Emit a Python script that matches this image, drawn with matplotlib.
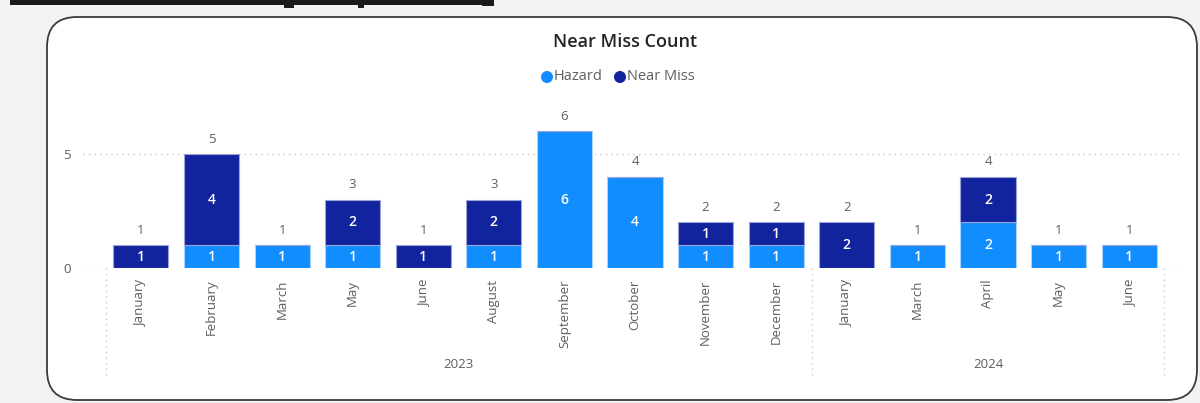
import matplotlib
matplotlib.use("Agg")
import matplotlib.pyplot as plt
from matplotlib.patches import FancyBboxPatch, Rectangle
from matplotlib.lines import Line2D
import numpy as np

plt.rcParams['font.family'] = ['Open Sans', 'DejaVu Sans']

months = ["January", "February", "March", "May", "June", "August", "September",
          "October", "November", "December", "January", "March", "April", "May", "June"]
years = ["2023", "2024"]
year_counts = [10, 5]
hazard = [0, 1, 1, 1, 0, 1, 6, 4, 1, 1, 0, 1, 2, 1, 1]
near_miss = [1, 4, 0, 2, 1, 2, 0, 0, 1, 1, 2, 0, 2, 0, 0]

C_HAZ = "#118DFF"
C_NM = "#12239E"
GREY = "#605E5C"
GRID = "#C8C8C8"

W, H = 1200, 403
fig = plt.figure(figsize=(W / 100, H / 100), dpi=100)
fig.patch.set_facecolor("#F3F2F1")

# background / card layer in pixel coordinates
bg = fig.add_axes([0, 0, 1, 1], zorder=0)
bg.set_xlim(0, W)
bg.set_ylim(H, 0)
bg.axis("off")
card = FancyBboxPatch((47, 17), 1150, 383, boxstyle="round,pad=0,rounding_size=30",
                      facecolor="white", edgecolor="#3B3B3B", linewidth=1.3)
bg.add_patch(card)
# cut-off dashboard heading at the very top
bg.add_patch(Rectangle((10, 0), 478, 4.5, facecolor="#1A1A1A", edgecolor="none"))
for x0, w, h in [(284, 10, 8), (358, 6, 8), (482, 12, 6)]:
    bg.add_patch(Rectangle((x0, 0), w, h, facecolor="#1A1A1A", edgecolor="none"))

bg.text(625, 42, "Near Miss Count", ha="center", va="center", fontsize=13,
        fontweight="semibold", color="#252423")
# legend
bg.scatter([547, 620], [77, 77], s=75, color=[C_HAZ, C_NM], zorder=3, linewidths=0)
bg.text(554, 77, "Hazard", ha="left", va="center", fontsize=10.5, color=GREY)
bg.text(627, 77, "Near Miss", ha="left", va="center", fontsize=10.5, color=GREY)

# main axes
ax_left, ax_right, y0_px, ytop_px = 83, 1180, 268, 110.7
ax = fig.add_axes([ax_left / W, 1 - y0_px / H, (ax_right - ax_left) / W, (y0_px - ytop_px) / H], zorder=1)
ax.patch.set_alpha(0)

x = np.arange(len(months))
haz = np.array(hazard)
nm = np.array(near_miss)
tot = haz + nm
bw = 0.78
ax.bar(x, haz, bw, color=C_HAZ, edgecolor="#A9D4FF", linewidth=0.8, zorder=2)
ax.bar(x, nm, bw, bottom=haz, color=C_NM, edgecolor="#9AA3DA", linewidth=0.8, zorder=2)

for i in range(len(x)):
    if haz[i] > 0:
        ax.text(x[i], haz[i] / 2, str(haz[i]), ha="center", va="center", color="white",
                fontsize=10, fontweight="semibold", zorder=3)
    if nm[i] > 0:
        ax.text(x[i], haz[i] + nm[i] / 2, str(nm[i]), ha="center", va="center", color="white",
                fontsize=10, fontweight="semibold", zorder=3)
    ax.annotate(str(tot[i]), (x[i], tot[i]), xytext=(0, 6), textcoords="offset points",
                ha="center", va="bottom", fontsize=9.5, color=GREY)

ax.set_xlim(-0.82, 14.72)
ax.set_ylim(0, 6.9)
ax.set_yticks([0, 5])
ax.set_yticklabels(["0", "5"])
for yv in [0, 5]:
    ax.axhline(yv, color=GRID, linestyle=(0, (1, 3)), linewidth=1, zorder=1)
for s in ax.spines.values():
    s.set_visible(False)
ax.tick_params(axis="y", length=0, pad=9, labelcolor=GREY, labelsize=9.5)
ax.set_xticks(x)
ax.set_xticklabels(months, rotation=90, va="top", ha="center")
ax.tick_params(axis="x", length=0, pad=8.5, labelcolor=GREY, labelsize=9.5)

# year group separators and labels
trans = ax.get_xaxis_transform()
bottom_ax = (y0_px - 378) / (y0_px - ytop_px)
year_ax = (y0_px - 365) / (y0_px - ytop_px)
bounds = np.concatenate([[0], np.cumsum(year_counts)]) - 0.5
for b in bounds:
    ax.add_line(Line2D([b, b], [0, bottom_ax], transform=trans, color=GRID,
                       linestyle=(0, (1, 3)), linewidth=1, clip_on=False))
for yr, a, b in zip(years, bounds[:-1], bounds[1:]):
    ax.text((a + b) / 2, year_ax, yr, transform=trans, ha="center", va="center",
            fontsize=9.5, color=GREY)

fig.savefig("out.png", dpi=100, facecolor=fig.get_facecolor())
